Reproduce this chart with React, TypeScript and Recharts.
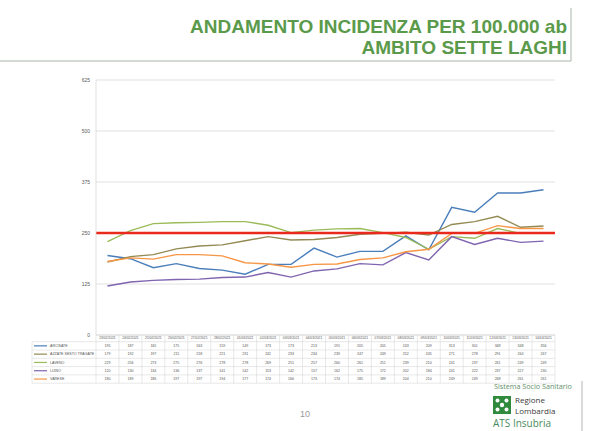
import React from 'react';
import { LineChart, Line, XAxis, YAxis, CartesianGrid, ReferenceLine } from 'recharts';

const dates = [
  '23/02/2021', '24/02/2021', '25/02/2021', '26/02/2021', '27/02/2021', '28/02/2021',
  '01/03/2021', '02/03/2021', '03/03/2021', '04/03/2021', '05/03/2021', '06/03/2021',
  '07/03/2021', '08/03/2021', '09/03/2021', '10/03/2021', '11/03/2021', '12/03/2021',
  '13/03/2021', '14/03/2021',
];
const arcisate = [195, 187, 165, 175, 163, 159, 149, 173, 173, 213, 191, 205, 205, 243, 209, 313, 301, 348, 348, 356];
const azzate = [179, 192, 197, 211, 218, 221, 231, 241, 233, 234, 239, 247, 249, 252, 245, 271, 278, 291, 264, 267];
const laveno = [229, 256, 273, 275, 276, 278, 278, 269, 251, 257, 260, 261, 251, 239, 210, 241, 237, 261, 249, 249];
const luino = [120, 130, 134, 136, 137, 141, 142, 153, 142, 157, 162, 175, 172, 202, 184, 241, 222, 237, 227, 230];
const varese = [180, 189, 186, 197, 197, 194, 177, 174, 166, 173, 174, 185, 189, 204, 210, 249, 249, 268, 261, 261];
const threshold = 250;
const yTicks = [0, 125, 250, 375, 500, 625];

const series = [
  { key: 'arcisate', name: 'ARCISATE', values: arcisate, color: '#4a7ebb' },
  { key: 'azzate', name: 'AZZATE SESTO TRAGATE', values: azzate, color: '#948a54' },
  { key: 'laveno', name: 'LAVENO', values: laveno, color: '#9bbb59' },
  { key: 'luino', name: 'LUINO', values: luino, color: '#7f64b0' },
  { key: 'varese', name: 'VARESE', values: varese, color: '#f79646' },
];

const data = dates.map((d, i) => {
  const row: Record<string, string | number> = { date: d };
  series.forEach((s) => { row[s.key] = s.values[i]; });
  return row;
});

const W = 610;
const H = 431;
const PL = 96;
const PR = 555;
const PT = 80;
const PB = 335;
const colW = (PR - PL) / dates.length;
const headerH = 6.7;
const rowH = 8.3;
const tableLeft = 32;
const FONT = '"Liberation Sans", Arial, sans-serif';

export default function App() {
  const tableTop = PB;
  const rowsTop = tableTop + headerH;
  const tableBottom = rowsTop + rowH * series.length;
  return (
    <div style={{ position: 'absolute', left: 0, top: 0, width: W, height: H, background: '#fff', overflow: 'hidden' }}>
      <div style={{ position: 'absolute', left: 0, top: 0 }}>
        <LineChart
          width={W}
          height={H}
          data={data}
          margin={{ top: PT, right: W - PR, bottom: H - PB - headerH, left: PL - 40 }}
        >
          <CartesianGrid vertical={false} stroke="#d9d9d9" strokeWidth={0.8} />
          <XAxis
            dataKey="date"
            height={headerH}
            interval={0}
            tickLine={false}
            axisLine={false}
            tickSize={0}
            tickMargin={1.5}
            padding={{ left: colW / 2, right: colW / 2 }}
            tick={{ fontSize: 3.3, fill: '#555', fontFamily: FONT }}
          />
          <YAxis
            width={40}
            domain={[0, 625]}
            ticks={yTicks}
            interval={0}
            tickLine={false}
            tickSize={0}
            tickMargin={6}
            axisLine={{ stroke: '#d9d9d9', strokeWidth: 0.8 }}
            tick={{ fontSize: 5, fill: '#595959', fontFamily: FONT }}
          />
          {series.map((s) => (
            <Line
              key={s.key}
              dataKey={s.key}
              name={s.name}
              stroke={s.color}
              strokeWidth={1.4}
              dot={false}
              isAnimationActive={false}
              type="linear"
            />
          ))}
          <ReferenceLine y={threshold} stroke="#e8291c" strokeWidth={2.6} />
        </LineChart>
      </div>
      <svg width={W} height={H} style={{ position: 'absolute', left: 0, top: 0, pointerEvents: 'none' }}>
        {/* title */}
        <text x={567} y={33} textAnchor="end" fontFamily={FONT} fontWeight="bold" fontSize={19} fill="#5a9a4a">
          ANDAMENTO INCIDENZA PER 100.000 ab
        </text>
        <text x={567} y={54} textAnchor="end" fontFamily={FONT} fontWeight="bold" fontSize={19} fill="#5a9a4a">
          AMBITO SETTE LAGHI
        </text>
        <line x1={0} y1={61} x2={571} y2={61} stroke="#a9b4a9" strokeWidth={1} />
        <line x1={571} y1={8} x2={571} y2={61} stroke="#a9b4a9" strokeWidth={1} />

        {/* data table grid */}
        {dates.map((_, i) => (
          <line key={'v' + i} x1={PL + i * colW} y1={tableTop} x2={PL + i * colW} y2={tableBottom} stroke="#d0d0d0" strokeWidth={0.5} />
        ))}
        <line x1={PR} y1={tableTop} x2={PR} y2={tableBottom} stroke="#d0d0d0" strokeWidth={0.5} />
        <line x1={tableLeft} y1={rowsTop} x2={tableLeft} y2={tableBottom} stroke="#d0d0d0" strokeWidth={0.5} />
        <line x1={PL} y1={tableTop} x2={PR} y2={tableTop} stroke="#d0d0d0" strokeWidth={0.5} />
        {series.map((s, r) => (
          <line key={'h' + r} x1={tableLeft} y1={rowsTop + r * rowH} x2={PR} y2={rowsTop + r * rowH} stroke="#d0d0d0" strokeWidth={0.5} />
        ))}
        <line x1={tableLeft} y1={tableBottom} x2={PR} y2={tableBottom} stroke="#d0d0d0" strokeWidth={0.5} />
        {series.map((s, r) => {
          const cy = rowsTop + r * rowH + rowH / 2;
          return (
            <g key={'r' + r}>
              <line x1={tableLeft + 2} y1={cy} x2={tableLeft + 15} y2={cy} stroke={s.color} strokeWidth={1.2} />
              <text x={tableLeft + 18} y={cy + 1.3} fontFamily={FONT} fontSize={3.6} fill="#555">{s.name}</text>
              {s.values.map((v, i) => (
                <text key={i} x={PL + i * colW + colW / 2} y={cy + 1.3} textAnchor="middle" fontFamily={FONT} fontSize={3.6} fill="#555">
                  {v}
                </text>
              ))}
            </g>
          );
        })}

        {/* page number */}
        <text x={305} y={417} textAnchor="middle" fontFamily={FONT} fontSize={9} fill="#999">10</text>

        {/* logo */}
        <line x1={582} y1={381} x2={582} y2={431} stroke="#b5b5b5" strokeWidth={1} />
        <text x={494} y={389} fontFamily='"Open Sans", sans-serif' fontSize={7.2} fill="#5f8f6a">Sistema Socio Sanitario</text>
        <rect x={493} y={396} width={18} height={18} fill="#2f8a3c" />
        <g fill="#fff">
          <circle cx={497.5} cy={400.5} r={2} />
          <circle cx={506.5} cy={400.5} r={2} />
          <circle cx={497.5} cy={409.5} r={2} />
          <circle cx={506.5} cy={409.5} r={2} />
          <circle cx={502} cy={405} r={2.2} />
        </g>
        <text x={515} y={402.5} fontFamily='"Open Sans", sans-serif' fontSize={8} fill="#3a3a3a">Regione</text>
        <text x={515} y={413.8} fontFamily='"Open Sans", sans-serif' fontSize={8} fill="#3a3a3a">Lombardia</text>
        <text x={493} y={427} fontFamily='"Open Sans", sans-serif' fontSize={10} fill="#4a8a5c">ATS Insubria</text>
      </svg>
    </div>
  );
}
